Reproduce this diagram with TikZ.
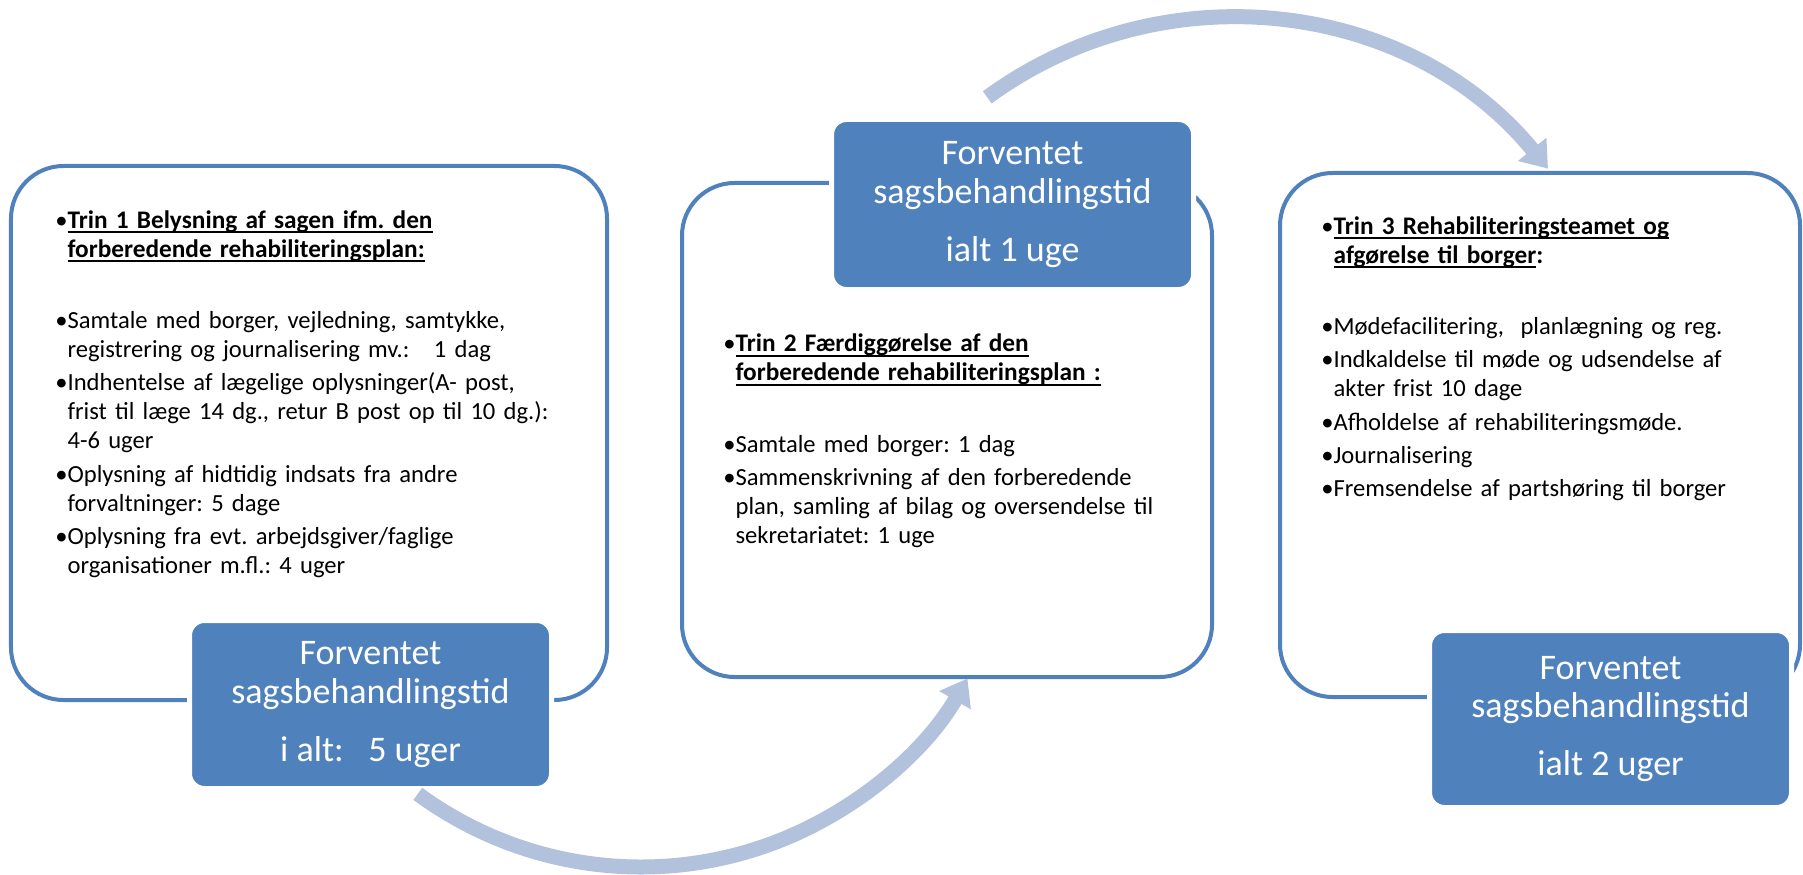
\documentclass[tikz,border=0pt]{standalone}
\usepackage{fontspec}
\setmainfont{Carlito}
\usetikzlibrary{arrows.meta}

\definecolor{boxblue}{RGB}{79,129,189}
\definecolor{arrowblue}{RGB}{178,193,220}

\frenchspacing

\newsavebox{\bulletbox}
\newsavebox{\headbox}
\newcommand{\bline}[1]{\par\sbox{\bulletbox}{\textbullet}\hangindent=\wd\bulletbox\hangafter=1\noindent\usebox{\bulletbox}#1}
\newcommand{\bitem}[1]{\par\vspace{0.085cm}\bline{#1}}
\newcommand{\ulhead}[1]{\leavevmode\sbox{\headbox}{#1}\rlap{\rule[-0.2em]{\wd\headbox}{1.1pt}}\usebox{\headbox}}
\newcommand{\headfont}{\fontsize{14.4pt}{16.5pt}\selectfont\bfseries}

\tikzset{
    trinframe/.style={draw=boxblue, line width=0.08cm, rounded corners=1.05cm, fill=white},
    tidbox/.style={draw=white, line width=0.1cm, fill=boxblue, rounded corners=0.3cm,
        text=white, align=center, font=\fontsize{20.5pt}{22pt}\selectfont},
    trintext/.style={anchor=north west, inner sep=0pt, text width=11cm, align=left,
        font=\fontsize{14pt}{16.5pt}\selectfont},
    flowarrow/.style={line width=0.3cm, draw=arrowblue, -{Triangle[length=0.5cm, width=0.7cm]}}
}

\begin{document}
\begin{tikzpicture}

    \useasboundingbox (0,0) rectangle (36.06,17.48);

    %% Frames

    % Trin 1
    \node[trinframe, minimum width=11.92cm, minimum height=10.68cm] (trin1) at (6.18,8.82) {};
    \node[trintext] (tekst1) at (1.1,13.5) {%
        \bline{{\headfont\ulhead{Trin 1 Belysning af sagen ifm. den}\newline\ulhead{forberedende rehabiliteringsplan:}}}
        \par\vspace{0.76cm}
        \bitem{Samtale med borger, vejledning, samtykke,\newline registrering og journalisering mv.:\ \ \ 1 dag}
        \bitem{Indhentelse af lægelige oplysninger(A- post,\newline frist til læge 14 dg., retur B post op til 10 dg.):\newline 4-6 uger}
        \bitem{Oplysning af hidtidig indsats fra andre\newline forvaltninger: 5 dage}
        \bitem{Oplysning fra evt. arbejdsgiver/faglige\newline organisationer m.fl.: 4 uger}\par};

    % Trin 2
    \node[trinframe, minimum width=10.6cm, minimum height=9.88cm] (trin2) at (18.94,8.88) {};
    \node[trintext] (tekst2) at (14.46,11.03) {%
        \bline{{\headfont\ulhead{Trin 2 Færdiggørelse af den}\newline\ulhead{forberedende rehabiliteringsplan :}}}
        \par\vspace{0.76cm}
        \bitem{Samtale med borger: 1 dag}
        \bitem{Sammenskrivning af den forberedende\newline plan, samling af bilag og oversendelse til\newline sekretariatet: 1 uge}\par};

    % Trin 3
    \node[trinframe, minimum width=10.4cm, minimum height=10.48cm] (trin3) at (30.8,8.78) {};
    \node[trintext] (tekst3) at (26.42,13.38) {%
        \bline{{\headfont\ulhead{Trin 3 Rehabiliteringsteamet og}\newline\ulhead{afgørelse til borger}:}}
        \par\vspace{0.76cm}
        \bitem{Mødefacilitering,\ \ planlægning og reg.}
        \bitem{Indkaldelse til møde og udsendelse af\newline akter frist 10 dage}
        \bitem{Afholdelse af rehabiliteringsmøde.}
        \bitem{Journalisering}
        \bitem{Fremsendelse af partshøring til borger}\par};

    %% Sagsbehandlingstid

    \node[tidbox, minimum width=7.24cm, minimum height=3.36cm] (tid1) at (7.41,3.39)
        {Forventet\\sagsbehandlingstid\\[11pt]i alt:\ \ \ 5 uger};
    \node[tidbox, minimum width=7.24cm, minimum height=3.4cm] (tid2) at (20.25,13.39)
        {Forventet\\sagsbehandlingstid\\[11pt]ialt 1 uge};
    \node[tidbox, minimum width=7.24cm, minimum height=3.54cm] (tid3) at (32.21,3.10)
        {Forventet\\sagsbehandlingstid\\[11pt]ialt 2 uger};

    %% Arrows

    % Trin 1 to Trin 2
    \coordinate (pil1) at (8.356,1.603);
    \draw[flowarrow] (pil1) arc[start angle=233.7, end angle=330, radius=7.54];

    % Trin 2 to Trin 3
    \coordinate (pil2) at (19.745,15.533);
    \draw[flowarrow] (pil2) arc[start angle=126.2, end angle=39.3, radius=8.22];

\end{tikzpicture}
\end{document}
